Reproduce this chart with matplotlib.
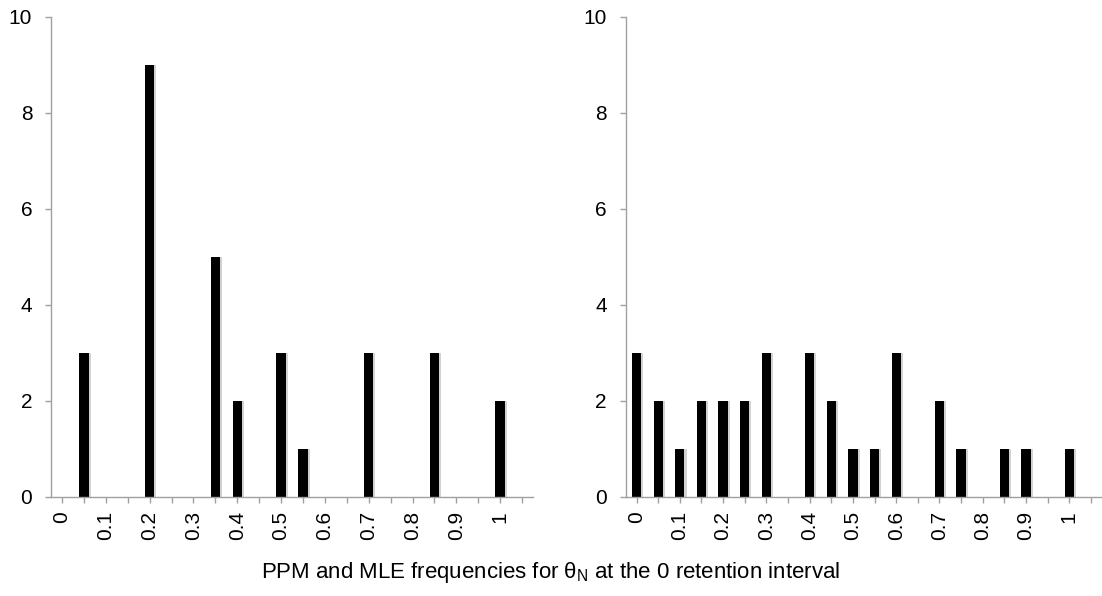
import matplotlib
matplotlib.use('Agg')
import matplotlib.pyplot as plt
import matplotlib.patheffects as pe

# === Data (frequency per 0.05 bin) ===
bins = [0, 0.05, 0.1, 0.15, 0.2, 0.25, 0.3, 0.35, 0.4, 0.45, 0.5,
        0.55, 0.6, 0.65, 0.7, 0.75, 0.8, 0.85, 0.9, 0.95, 1, 1.05]
ppm_counts = [0, 3, 0, 0, 9, 0, 0, 5, 2, 0, 3, 1, 0, 0, 3, 0, 0, 3, 0, 0, 2, 0]
mle_counts = [3, 2, 1, 2, 2, 2, 3, 0, 3, 2, 1, 1, 3, 0, 2, 1, 0, 1, 1, 0, 1, 0]
y_ticks = [0, 2, 4, 6, 8, 10]
title = 'PPM and MLE frequencies for \u03b8$_{\\mathrm{N}}$ at the 0 retention interval'

# === Style ===
plt.rcParams['font.family'] = ['Liberation Sans', 'DejaVu Sans']
plt.rcParams['mathtext.fontset'] = 'custom'
plt.rcParams['mathtext.rm'] = 'Liberation Sans'
plt.rcParams['font.size'] = 15
grey = '#a0a0a0'

fig = plt.figure(figsize=(11.02, 5.96), dpi=100)
ax1 = fig.add_axes([51 / 1102, 99.3 / 596, 482 / 1102, 480 / 596])
ax2 = fig.add_axes([625.7 / 1102, 99.3 / 596, 476 / 1102, 480 / 596])

labels = [f'{b:g}' if i % 2 == 0 else '' for i, b in enumerate(bins)]
pos = list(range(len(bins)))
shadow = [pe.SimplePatchShadow(offset=(1.5, -0.5), shadow_rgbFace='#808080', alpha=0.35), pe.Normal()]

for ax, counts in [(ax1, ppm_counts), (ax2, mle_counts)]:
    bars = ax.bar(pos, counts, width=0.43, color='black')
    for b in bars:
        b.set_path_effects(shadow)
    ax.set_xlim(-0.5, len(bins) - 0.5)
    ax.set_ylim(0, 10)
    ax.set_yticks(y_ticks)
    ax.set_xticks(pos)
    ax.set_xticklabels(labels, rotation=90)
    for side in ['top', 'right']:
        ax.spines[side].set_visible(False)
    for side in ['left', 'bottom']:
        ax.spines[side].set_color(grey)
        ax.spines[side].set_linewidth(1)
    ax.tick_params(axis='x', direction='out', length=4, width=1, color=grey, pad=6.5)
    ax.tick_params(axis='y', direction='out', length=4, width=1, color=grey, pad=9.5)

fig.text(0.5, 18 / 596, title, ha='center', va='baseline', fontsize=16)

fig.savefig('out.png', dpi=100)
